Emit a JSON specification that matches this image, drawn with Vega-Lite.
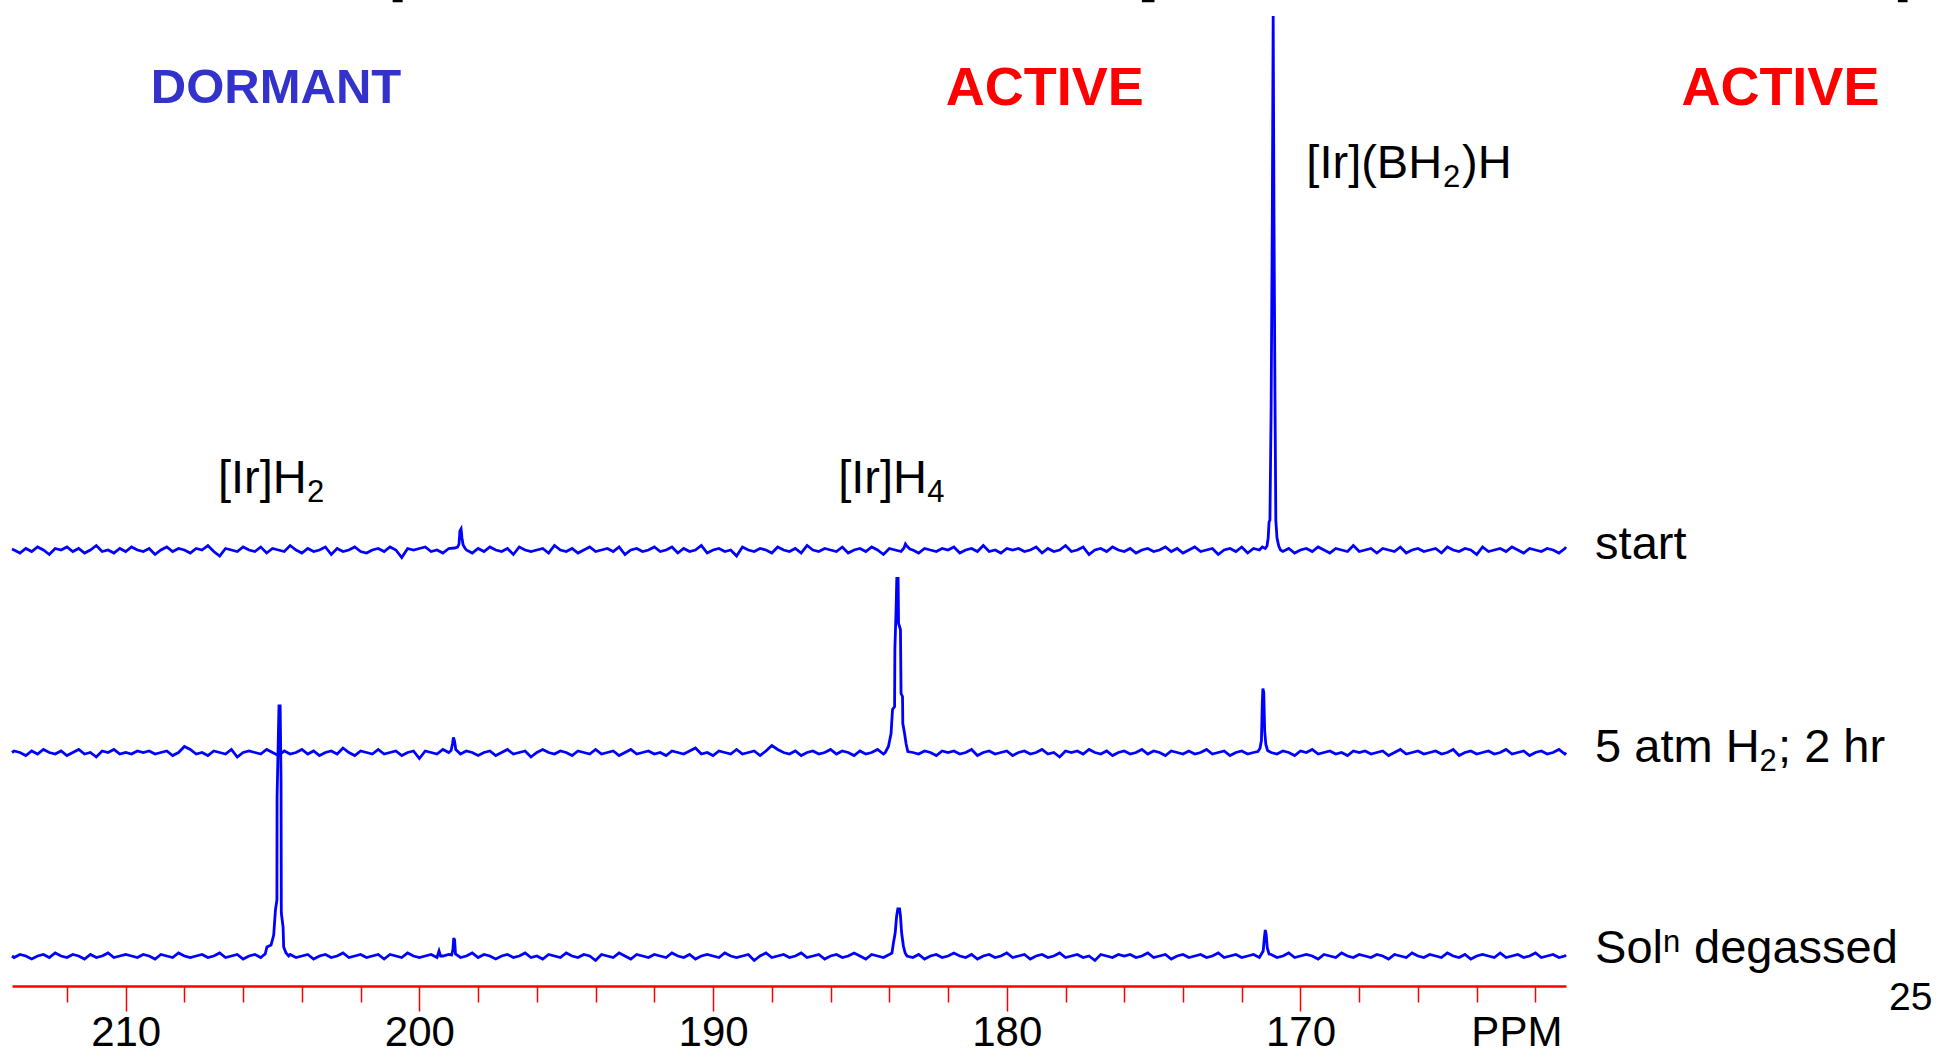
{
"$schema": "https://vega.github.io/schema/vega-lite/v6.json",
"width": 1554,
"height": 986,
"autosize": {"type": "none"},
"padding": {"left": 12, "top": 0, "right": 370, "bottom": 69},
"background": "white",
"config": {"view": {"stroke": null}, "axis": {"grid": false}},
"datasets": {
"A": [
{"p":213.87,"v":1},{"p":213.8,"v":0},{"p":213.6,"v":-3},{"p":213.4,"v":1.5},{"p":213.2,"v":-1.5},{"p":213.0,"v":3},{"p":212.8,"v":0},{"p":212.6,"v":-4.5},{"p":212.4,"v":1.5},{"p":212.2,"v":0},{"p":212.0,"v":3},
{"p":211.8,"v":-1.5},{"p":211.6,"v":1.5},{"p":211.4,"v":-3},{"p":211.2,"v":0},{"p":211.0,"v":4.5},{"p":210.8,"v":-1.5},{"p":210.6,"v":0},{"p":210.4,"v":-3},{"p":210.2,"v":1.5},{"p":210.0,"v":-1.5},
{"p":209.8,"v":3},{"p":209.6,"v":0},{"p":209.4,"v":-1.5},{"p":209.2,"v":1.5},{"p":209.0,"v":-4.5},{"p":208.8,"v":0},{"p":208.6,"v":3},{"p":208.4,"v":-1.5},{"p":208.2,"v":1.5},{"p":208.0,"v":0},
{"p":207.8,"v":-3},{"p":207.6,"v":1.5},{"p":207.4,"v":0},{"p":207.2,"v":4.5},{"p":207.0,"v":-1.5},{"p":206.8,"v":-6},{"p":206.6,"v":1.5},{"p":206.4,"v":0},{"p":206.2,"v":-1.5},{"p":206.0,"v":3},
{"p":205.8,"v":0},{"p":205.6,"v":-1.5},{"p":205.4,"v":3},{"p":205.2,"v":-3},{"p":205.0,"v":1.5},{"p":204.8,"v":0},{"p":204.6,"v":-1.5},{"p":204.4,"v":4.5},{"p":204.2,"v":0},{"p":204.0,"v":-3},
{"p":203.8,"v":1.5},{"p":203.6,"v":-1.5},{"p":203.4,"v":0},{"p":203.2,"v":3},{"p":203.0,"v":-4.5},{"p":202.8,"v":1.5},{"p":202.6,"v":-1.5},{"p":202.4,"v":0},{"p":202.2,"v":3},{"p":202.0,"v":-1.5},
{"p":201.8,"v":-3},{"p":201.6,"v":0},{"p":201.4,"v":1.5},{"p":201.2,"v":-1.5},{"p":201.0,"v":3},{"p":200.8,"v":0},{"p":200.6,"v":-7.5},{"p":200.4,"v":1.5},{"p":200.2,"v":0},{"p":200.0,"v":1.5},
{"p":199.8,"v":3},{"p":199.6,"v":-1.5},{"p":199.4,"v":0},{"p":199.2,"v":-3},{"p":199.0,"v":1.5},{"p":198.8,"v":2},{"p":198.7,"v":3},{"p":198.65,"v":6},{"p":198.62,"v":19},{"p":198.58,"v":21},{"p":198.55,"v":12},{"p":198.51,"v":5},{"p":198.45,"v":2},{"p":198.4,"v":0},{"p":198.2,"v":-3},{"p":198.0,"v":1.5},
{"p":197.8,"v":-1.5},{"p":197.6,"v":3},{"p":197.4,"v":0},{"p":197.2,"v":-1.5},{"p":197.0,"v":1.5},{"p":196.8,"v":-4.5},{"p":196.6,"v":3},{"p":196.4,"v":0},{"p":196.2,"v":-1.5},{"p":196.0,"v":0},
{"p":195.8,"v":1.5},{"p":195.6,"v":-3},{"p":195.4,"v":4.5},{"p":195.2,"v":0},{"p":195.0,"v":-1.5},{"p":194.8,"v":1.5},{"p":194.6,"v":-3},{"p":194.4,"v":0},{"p":194.2,"v":3},{"p":194.0,"v":-1.5},
{"p":193.8,"v":0},{"p":193.6,"v":1.5},{"p":193.4,"v":-1.5},{"p":193.2,"v":3},{"p":193.0,"v":-4.5},{"p":192.8,"v":0},{"p":192.6,"v":1.5},{"p":192.4,"v":-1.5},{"p":192.2,"v":0},{"p":192.0,"v":3},
{"p":191.8,"v":-1.5},{"p":191.6,"v":0},{"p":191.4,"v":3},{"p":191.2,"v":-3},{"p":191.0,"v":1.5},{"p":190.8,"v":-1.5},{"p":190.6,"v":0},{"p":190.4,"v":4.5},{"p":190.2,"v":-3},{"p":190.0,"v":0},
{"p":189.8,"v":1.5},{"p":189.6,"v":-1.5},{"p":189.4,"v":0},{"p":189.2,"v":-6},{"p":189.0,"v":3},{"p":188.8,"v":0},{"p":188.6,"v":-1.5},{"p":188.4,"v":1.5},{"p":188.2,"v":0},{"p":188.0,"v":-3},
{"p":187.8,"v":3},{"p":187.6,"v":0},{"p":187.4,"v":-1.5},{"p":187.2,"v":1.5},{"p":187.0,"v":-3},{"p":186.8,"v":4.5},{"p":186.6,"v":0},{"p":186.4,"v":-1.5},{"p":186.2,"v":1.5},{"p":186.0,"v":0},
{"p":185.8,"v":-1.5},{"p":185.6,"v":3},{"p":185.4,"v":-3},{"p":185.2,"v":0},{"p":185.0,"v":1.5},{"p":184.8,"v":-1.5},{"p":184.6,"v":3},{"p":184.4,"v":0},{"p":184.2,"v":-4.5},{"p":184.0,"v":1.5},
{"p":183.8,"v":0},{"p":183.6,"v":-1.5},{"p":183.5,"v":2},{"p":183.45,"v":6},{"p":183.4,"v":4},{"p":183.3,"v":1},{"p":183.2,"v":0},{"p":183.0,"v":-3},{"p":182.8,"v":1.5},{"p":182.6,"v":0},{"p":182.4,"v":-1.5},{"p":182.2,"v":1.5},{"p":182.0,"v":0},
{"p":181.8,"v":3},{"p":181.6,"v":-3},{"p":181.4,"v":0},{"p":181.2,"v":1.5},{"p":181.0,"v":-1.5},{"p":180.8,"v":4.5},{"p":180.6,"v":-1.5},{"p":180.4,"v":0},{"p":180.2,"v":-3},{"p":180.0,"v":1.5},
{"p":179.8,"v":0},{"p":179.6,"v":1.5},{"p":179.4,"v":-1.5},{"p":179.2,"v":0},{"p":179.0,"v":3},{"p":178.8,"v":-3},{"p":178.6,"v":1.5},{"p":178.4,"v":-1.5},{"p":178.2,"v":0},{"p":178.0,"v":4.5},
{"p":177.8,"v":-1.5},{"p":177.6,"v":0},{"p":177.4,"v":3},{"p":177.2,"v":-4.5},{"p":177.0,"v":0},{"p":176.8,"v":1.5},{"p":176.6,"v":-1.5},{"p":176.4,"v":3},{"p":176.2,"v":0},{"p":176.0,"v":-1.5},
{"p":175.8,"v":1.5},{"p":175.6,"v":-3},{"p":175.4,"v":0},{"p":175.2,"v":1.5},{"p":175.0,"v":-1.5},{"p":174.8,"v":0},{"p":174.6,"v":3},{"p":174.4,"v":-1.5},{"p":174.2,"v":1.5},{"p":174.0,"v":-3},
{"p":173.8,"v":0},{"p":173.6,"v":3},{"p":173.4,"v":-1.5},{"p":173.2,"v":0},{"p":173.0,"v":1.5},{"p":172.8,"v":-4.5},{"p":172.6,"v":0},{"p":172.4,"v":1.5},{"p":172.2,"v":-1.5},{"p":172.0,"v":3},
{"p":171.8,"v":-3},{"p":171.6,"v":1.5},{"p":171.4,"v":0},{"p":171.3,"v":3},{"p":171.2,"v":1.5},{"p":171.14,"v":4},{"p":171.1,"v":12},{"p":171.07,"v":28},{"p":171.04,"v":30},{"p":171.0,"v":140},{"p":170.96,"v":330},{"p":170.93,"v":534},{"p":170.9,"v":320},{"p":170.87,"v":160},{"p":170.84,"v":30},{"p":170.8,"v":12},{"p":170.74,"v":4},{"p":170.68,"v":0},{"p":170.6,"v":-1.5},{"p":170.4,"v":1.5},{"p":170.2,"v":-3},{"p":170.0,"v":0},
{"p":169.8,"v":1.5},{"p":169.6,"v":-1.5},{"p":169.4,"v":3},{"p":169.2,"v":0},{"p":169.0,"v":-3},{"p":168.8,"v":1.5},{"p":168.6,"v":0},{"p":168.4,"v":-1.5},{"p":168.2,"v":4.5},{"p":168.0,"v":-1.5},
{"p":167.8,"v":0},{"p":167.6,"v":1.5},{"p":167.4,"v":-3},{"p":167.2,"v":1.5},{"p":167.0,"v":0},{"p":166.8,"v":-1.5},{"p":166.6,"v":3},{"p":166.4,"v":-3},{"p":166.2,"v":0},{"p":166.0,"v":1.5},
{"p":165.8,"v":-1.5},{"p":165.6,"v":0},{"p":165.4,"v":1.5},{"p":165.2,"v":-3},{"p":165.0,"v":3},{"p":164.8,"v":0},{"p":164.6,"v":-1.5},{"p":164.4,"v":1.5},{"p":164.2,"v":0},{"p":164.0,"v":-4.5},
{"p":163.8,"v":3},{"p":163.6,"v":-1.5},{"p":163.4,"v":0},{"p":163.2,"v":1.5},{"p":163.0,"v":-1.5},{"p":162.8,"v":3},{"p":162.6,"v":0},{"p":162.4,"v":-3},{"p":162.2,"v":1.5},{"p":162.0,"v":0},
{"p":161.8,"v":-1.5},{"p":161.6,"v":1.5},{"p":161.4,"v":0},{"p":161.2,"v":-3},{"p":161.0,"v":1.5},{"p":160.96,"v":3}
],
"B": [
{"p":213.87,"v":0},{"p":213.8,"v":1.5},{"p":213.6,"v":0},{"p":213.4,"v":-3},{"p":213.2,"v":1.5},{"p":213.0,"v":-1.5},{"p":212.8,"v":3},{"p":212.6,"v":0},{"p":212.4,"v":-1.5},{"p":212.2,"v":1.5},{"p":212.0,"v":-3},
{"p":211.8,"v":0},{"p":211.6,"v":3},{"p":211.4,"v":-1.5},{"p":211.2,"v":0},{"p":211.0,"v":-4.5},{"p":210.8,"v":1.5},{"p":210.6,"v":0},{"p":210.4,"v":3},{"p":210.2,"v":-1.5},{"p":210.0,"v":0},
{"p":209.8,"v":-1.5},{"p":209.6,"v":1.5},{"p":209.4,"v":0},{"p":209.2,"v":1.5},{"p":209.0,"v":-1.5},{"p":208.8,"v":0},{"p":208.6,"v":1.5},{"p":208.4,"v":-3},{"p":208.2,"v":0},{"p":208.0,"v":6},
{"p":207.8,"v":3},{"p":207.6,"v":-1.5},{"p":207.4,"v":0},{"p":207.2,"v":-3},{"p":207.0,"v":1.5},{"p":206.8,"v":0},{"p":206.6,"v":-1.5},{"p":206.4,"v":3},{"p":206.2,"v":-4.5},{"p":206.0,"v":0},
{"p":205.8,"v":1.5},{"p":205.6,"v":0},{"p":205.4,"v":-1.5},{"p":205.2,"v":3},{"p":205.0,"v":0},{"p":204.8,"v":-3},{"p":204.6,"v":1.5},{"p":204.4,"v":-1.5},{"p":204.2,"v":0},{"p":204.0,"v":3},
{"p":203.8,"v":-1.5},{"p":203.6,"v":1.5},{"p":203.4,"v":-3},{"p":203.2,"v":0},{"p":203.0,"v":1.5},{"p":202.8,"v":-1.5},{"p":202.6,"v":4.5},{"p":202.4,"v":0},{"p":202.2,"v":-3},{"p":202.0,"v":1.5},
{"p":201.8,"v":0},{"p":201.6,"v":-1.5},{"p":201.4,"v":3},{"p":201.2,"v":-1.5},{"p":201.0,"v":0},{"p":200.8,"v":1.5},{"p":200.6,"v":-3},{"p":200.4,"v":0},{"p":200.2,"v":1.5},{"p":200.0,"v":-6},
{"p":199.8,"v":1.5},{"p":199.6,"v":0},{"p":199.4,"v":-1.5},{"p":199.2,"v":3},{"p":199.0,"v":0},{"p":198.92,"v":2},{"p":198.87,"v":9},{"p":198.84,"v":15},{"p":198.8,"v":11},{"p":198.76,"v":3},{"p":198.6,"v":-1.5},{"p":198.4,"v":1.5},{"p":198.2,"v":0},{"p":198.0,"v":-3},
{"p":197.8,"v":0},{"p":197.6,"v":1.5},{"p":197.4,"v":-3},{"p":197.2,"v":0},{"p":197.0,"v":3},{"p":196.8,"v":-1.5},{"p":196.6,"v":0},{"p":196.4,"v":1.5},{"p":196.2,"v":-4.5},{"p":196.0,"v":0},
{"p":195.8,"v":3},{"p":195.6,"v":0},{"p":195.4,"v":-1.5},{"p":195.2,"v":1.5},{"p":195.0,"v":0},{"p":194.8,"v":-3},{"p":194.6,"v":1.5},{"p":194.4,"v":0},{"p":194.2,"v":-1.5},{"p":194.0,"v":3},
{"p":193.8,"v":-1.5},{"p":193.6,"v":0},{"p":193.4,"v":1.5},{"p":193.2,"v":-3},{"p":193.0,"v":0},{"p":192.8,"v":3},{"p":192.6,"v":-1.5},{"p":192.4,"v":0},{"p":192.2,"v":1.5},{"p":192.0,"v":-1.5},
{"p":191.8,"v":0},{"p":191.6,"v":-3},{"p":191.4,"v":1.5},{"p":191.2,"v":0},{"p":191.0,"v":-1.5},{"p":190.8,"v":1.5},{"p":190.6,"v":4.5},{"p":190.4,"v":-1.5},{"p":190.2,"v":0},{"p":190.0,"v":-3},
{"p":189.8,"v":1.5},{"p":189.6,"v":0},{"p":189.4,"v":-1.5},{"p":189.2,"v":3},{"p":189.0,"v":-1.5},{"p":188.8,"v":0},{"p":188.6,"v":1.5},{"p":188.4,"v":-3},{"p":188.2,"v":1.5},{"p":188.0,"v":7},
{"p":187.8,"v":3},{"p":187.6,"v":0},{"p":187.4,"v":-1.5},{"p":187.2,"v":1.5},{"p":187.0,"v":-3},{"p":186.8,"v":0},{"p":186.6,"v":1.5},{"p":186.4,"v":-1.5},{"p":186.2,"v":0},{"p":186.0,"v":3},
{"p":185.8,"v":-1.5},{"p":185.6,"v":1.5},{"p":185.4,"v":0},{"p":185.2,"v":-3},{"p":185.0,"v":1.5},{"p":184.8,"v":-1.5},{"p":184.6,"v":0},{"p":184.4,"v":3},{"p":184.2,"v":-1.5},{"p":184.14,"v":0},{"p":184.03,"v":6},{"p":183.94,"v":19},{"p":183.89,"v":43},{"p":183.82,"v":46},{"p":183.81,"v":103},{"p":183.77,"v":142},{"p":183.745,"v":174},{"p":183.7,"v":174},{"p":183.685,"v":129},{"p":183.62,"v":123},{"p":183.6,"v":59},{"p":183.55,"v":56},{"p":183.54,"v":29},{"p":183.48,"v":19},{"p":183.43,"v":9},{"p":183.37,"v":1},{"p":183.2,"v":0},{"p":183.0,"v":-1.5},{"p":182.8,"v":1.5},{"p":182.6,"v":0},{"p":182.4,"v":-3},{"p":182.2,"v":1.5},{"p":182.0,"v":0},
{"p":181.8,"v":1.5},{"p":181.6,"v":-1.5},{"p":181.4,"v":0},{"p":181.2,"v":3},{"p":181.0,"v":-3},{"p":180.8,"v":0},{"p":180.6,"v":1.5},{"p":180.4,"v":-1.5},{"p":180.2,"v":0},{"p":180.0,"v":1.5},
{"p":179.8,"v":-3},{"p":179.6,"v":0},{"p":179.4,"v":1.5},{"p":179.2,"v":-1.5},{"p":179.0,"v":0},{"p":178.8,"v":3},{"p":178.6,"v":-1.5},{"p":178.4,"v":0},{"p":178.2,"v":-4.5},{"p":178.0,"v":1.5},
{"p":177.8,"v":0},{"p":177.6,"v":1.5},{"p":177.4,"v":-1.5},{"p":177.2,"v":3},{"p":177.0,"v":0},{"p":176.8,"v":-1.5},{"p":176.6,"v":1.5},{"p":176.4,"v":-3},{"p":176.2,"v":0},{"p":176.0,"v":1.5},
{"p":175.8,"v":-1.5},{"p":175.6,"v":0},{"p":175.4,"v":3},{"p":175.2,"v":-1.5},{"p":175.0,"v":1.5},{"p":174.8,"v":0},{"p":174.6,"v":-3},{"p":174.4,"v":1.5},{"p":174.2,"v":0},{"p":174.0,"v":-1.5},
{"p":173.8,"v":1.5},{"p":173.6,"v":-1.5},{"p":173.4,"v":0},{"p":173.2,"v":3},{"p":173.0,"v":-1.5},{"p":172.8,"v":0},{"p":172.6,"v":1.5},{"p":172.4,"v":-3},{"p":172.2,"v":0},{"p":172.0,"v":1.5},
{"p":171.8,"v":-1.5},{"p":171.6,"v":0},{"p":171.45,"v":1},{"p":171.38,"v":4},{"p":171.33,"v":12},{"p":171.3,"v":50},{"p":171.28,"v":64},{"p":171.25,"v":60},{"p":171.22,"v":22},{"p":171.18,"v":8},{"p":171.12,"v":2},{"p":171.0,"v":0},{"p":170.8,"v":-1.5},{"p":170.6,"v":1.5},{"p":170.4,"v":0},{"p":170.2,"v":-3},{"p":170.0,"v":1.5},
{"p":169.8,"v":0},{"p":169.6,"v":3},{"p":169.4,"v":-1.5},{"p":169.2,"v":0},{"p":169.0,"v":1.5},{"p":168.8,"v":-1.5},{"p":168.6,"v":0},{"p":168.4,"v":-3},{"p":168.2,"v":1.5},{"p":168.0,"v":0},
{"p":167.8,"v":1.5},{"p":167.6,"v":-1.5},{"p":167.4,"v":0},{"p":167.2,"v":1.5},{"p":167.0,"v":-3},{"p":166.8,"v":0},{"p":166.6,"v":3},{"p":166.4,"v":-1.5},{"p":166.2,"v":0},{"p":166.0,"v":1.5},
{"p":165.8,"v":-1.5},{"p":165.6,"v":0},{"p":165.4,"v":1.5},{"p":165.2,"v":-1.5},{"p":165.0,"v":0},{"p":164.8,"v":3},{"p":164.6,"v":-3},{"p":164.4,"v":0},{"p":164.2,"v":1.5},{"p":164.0,"v":-1.5},
{"p":163.8,"v":0},{"p":163.6,"v":1.5},{"p":163.4,"v":-1.5},{"p":163.2,"v":0},{"p":163.0,"v":3},{"p":162.8,"v":-1.5},{"p":162.6,"v":0},{"p":162.4,"v":1.5},{"p":162.2,"v":-3},{"p":162.0,"v":0},
{"p":161.8,"v":1.5},{"p":161.6,"v":-1.5},{"p":161.4,"v":0},{"p":161.2,"v":3},{"p":161.0,"v":-1.5},{"p":160.96,"v":0}
],
"C": [
{"p":213.87,"v":0},{"p":213.8,"v":-1.5},{"p":213.6,"v":1.5},{"p":213.4,"v":0},{"p":213.2,"v":-3},{"p":213.0,"v":0},{"p":212.8,"v":1.5},{"p":212.6,"v":-1.5},{"p":212.4,"v":3},{"p":212.2,"v":0},{"p":212.0,"v":-1.5},
{"p":211.8,"v":1.5},{"p":211.6,"v":0},{"p":211.4,"v":-3},{"p":211.2,"v":1.5},{"p":211.0,"v":-1.5},{"p":210.8,"v":0},{"p":210.6,"v":3},{"p":210.4,"v":-1.5},{"p":210.2,"v":0},{"p":210.0,"v":1.5},
{"p":209.8,"v":0},{"p":209.6,"v":-1.5},{"p":209.4,"v":1.5},{"p":209.2,"v":0},{"p":209.0,"v":-3},{"p":208.8,"v":1.5},{"p":208.6,"v":0},{"p":208.4,"v":-1.5},{"p":208.2,"v":3},{"p":208.0,"v":0},
{"p":207.8,"v":-1.5},{"p":207.6,"v":0},{"p":207.4,"v":1.5},{"p":207.2,"v":-1.5},{"p":207.0,"v":0},{"p":206.8,"v":3},{"p":206.6,"v":-1.5},{"p":206.4,"v":0},{"p":206.2,"v":1.5},{"p":206.0,"v":-3},
{"p":205.8,"v":0},{"p":205.6,"v":1.5},{"p":205.4,"v":-1.5},{"p":205.3,"v":1},{"p":205.25,"v":2},{"p":205.19,"v":9},{"p":205.05,"v":11},{"p":204.96,"v":21},{"p":204.9,"v":46},{"p":204.85,"v":56},{"p":204.845,"v":159},{"p":204.78,"v":250},{"p":204.74,"v":250},{"p":204.71,"v":176},{"p":204.7,"v":43},{"p":204.64,"v":29},{"p":204.62,"v":9},{"p":204.54,"v":3},{"p":204.45,"v":0},{"p":204.4,"v":1.5},{"p":204.2,"v":-1.5},{"p":204.0,"v":0},
{"p":203.8,"v":1.5},{"p":203.6,"v":-3},{"p":203.4,"v":0},{"p":203.2,"v":1.5},{"p":203.0,"v":-1.5},{"p":202.8,"v":0},{"p":202.6,"v":3},{"p":202.4,"v":-1.5},{"p":202.2,"v":0},{"p":202.0,"v":1.5},
{"p":201.8,"v":-1.5},{"p":201.6,"v":0},{"p":201.4,"v":1.5},{"p":201.2,"v":-3},{"p":201.0,"v":1.5},{"p":200.8,"v":0},{"p":200.6,"v":-1.5},{"p":200.4,"v":3},{"p":200.2,"v":0},{"p":200.0,"v":-1.5},
{"p":199.8,"v":0},{"p":199.6,"v":1.5},{"p":199.4,"v":-1.5},{"p":199.33,"v":5},{"p":199.28,"v":0},{"p":199.2,"v":0},{"p":199.0,"v":1.5},{"p":198.9,"v":1},{"p":198.86,"v":6},{"p":198.83,"v":18},{"p":198.8,"v":16},{"p":198.77,"v":2},{"p":198.6,"v":-1.5},{"p":198.4,"v":0},{"p":198.2,"v":3},{"p":198.0,"v":-1.5},
{"p":197.8,"v":1.5},{"p":197.6,"v":0},{"p":197.4,"v":-3},{"p":197.2,"v":0},{"p":197.0,"v":1.5},{"p":196.8,"v":-1.5},{"p":196.6,"v":0},{"p":196.4,"v":3},{"p":196.2,"v":-1.5},{"p":196.0,"v":0},
{"p":195.8,"v":-3},{"p":195.6,"v":1.5},{"p":195.4,"v":0},{"p":195.2,"v":-1.5},{"p":195.0,"v":3},{"p":194.8,"v":0},{"p":194.6,"v":-1.5},{"p":194.4,"v":1.5},{"p":194.2,"v":0},{"p":194.0,"v":-4.5},
{"p":193.8,"v":1.5},{"p":193.6,"v":0},{"p":193.4,"v":-1.5},{"p":193.2,"v":3},{"p":193.0,"v":0},{"p":192.8,"v":-3},{"p":192.6,"v":1.5},{"p":192.4,"v":0},{"p":192.2,"v":-1.5},{"p":192.0,"v":1.5},
{"p":191.8,"v":0},{"p":191.6,"v":-1.5},{"p":191.4,"v":3},{"p":191.2,"v":0},{"p":191.0,"v":-1.5},{"p":190.8,"v":1.5},{"p":190.6,"v":-3},{"p":190.4,"v":0},{"p":190.2,"v":1.5},{"p":190.0,"v":0},
{"p":189.8,"v":-1.5},{"p":189.6,"v":3},{"p":189.4,"v":0},{"p":189.2,"v":-1.5},{"p":189.0,"v":0},{"p":188.8,"v":1.5},{"p":188.6,"v":-4.5},{"p":188.4,"v":0},{"p":188.2,"v":3},{"p":188.0,"v":-1.5},
{"p":187.8,"v":0},{"p":187.6,"v":1.5},{"p":187.4,"v":-1.5},{"p":187.2,"v":0},{"p":187.0,"v":3},{"p":186.8,"v":-1.5},{"p":186.6,"v":0},{"p":186.4,"v":1.5},{"p":186.2,"v":-3},{"p":186.0,"v":0},
{"p":185.8,"v":1.5},{"p":185.6,"v":-1.5},{"p":185.4,"v":0},{"p":185.2,"v":3},{"p":185.0,"v":0},{"p":184.8,"v":-3},{"p":184.6,"v":1.5},{"p":184.4,"v":0},{"p":184.2,"v":-1.5},{"p":184.0,"v":1.5},{"p":183.91,"v":3},{"p":183.86,"v":13},{"p":183.8,"v":23},{"p":183.75,"v":40},{"p":183.71,"v":47},{"p":183.65,"v":47},{"p":183.62,"v":40},{"p":183.58,"v":23},{"p":183.52,"v":10},{"p":183.46,"v":3},{"p":183.4,"v":0},{"p":183.2,"v":-1.5},{"p":183.0,"v":1.5},{"p":182.8,"v":-3},{"p":182.6,"v":0},{"p":182.4,"v":1.5},{"p":182.2,"v":-1.5},{"p":182.0,"v":0},
{"p":181.8,"v":3},{"p":181.6,"v":0},{"p":181.4,"v":-1.5},{"p":181.2,"v":1.5},{"p":181.0,"v":-3},{"p":180.8,"v":0},{"p":180.6,"v":1.5},{"p":180.4,"v":-1.5},{"p":180.2,"v":0},{"p":180.0,"v":3},
{"p":179.8,"v":-1.5},{"p":179.6,"v":0},{"p":179.4,"v":1.5},{"p":179.2,"v":-3},{"p":179.0,"v":0},{"p":178.8,"v":1.5},{"p":178.6,"v":-1.5},{"p":178.4,"v":0},{"p":178.2,"v":3},{"p":178.0,"v":-1.5},
{"p":177.8,"v":0},{"p":177.6,"v":1.5},{"p":177.4,"v":-1.5},{"p":177.2,"v":0},{"p":177.0,"v":-4.5},{"p":176.8,"v":1.5},{"p":176.6,"v":0},{"p":176.4,"v":-1.5},{"p":176.2,"v":1.5},{"p":176.0,"v":0},
{"p":175.8,"v":1.5},{"p":175.6,"v":-1.5},{"p":175.4,"v":0},{"p":175.2,"v":3},{"p":175.0,"v":-1.5},{"p":174.8,"v":0},{"p":174.6,"v":1.5},{"p":174.4,"v":-3},{"p":174.2,"v":0},{"p":174.0,"v":1.5},
{"p":173.8,"v":-1.5},{"p":173.6,"v":0},{"p":173.4,"v":1.5},{"p":173.2,"v":-1.5},{"p":173.0,"v":0},{"p":172.8,"v":3},{"p":172.6,"v":-1.5},{"p":172.4,"v":0},{"p":172.2,"v":1.5},{"p":172.0,"v":-1.5},
{"p":171.8,"v":0},{"p":171.6,"v":1.5},{"p":171.4,"v":-1.5},{"p":171.35,"v":1},{"p":171.27,"v":5},{"p":171.23,"v":18},{"p":171.2,"v":26},{"p":171.17,"v":22},{"p":171.13,"v":8},{"p":171.07,"v":2},{"p":171.0,"v":1.5},{"p":170.8,"v":-1.5},{"p":170.6,"v":0},{"p":170.4,"v":3},{"p":170.2,"v":-1.5},{"p":170.0,"v":0},
{"p":169.8,"v":1.5},{"p":169.6,"v":0},{"p":169.4,"v":-3},{"p":169.2,"v":1.5},{"p":169.0,"v":0},{"p":168.8,"v":-1.5},{"p":168.6,"v":3},{"p":168.4,"v":0},{"p":168.2,"v":-1.5},{"p":168.0,"v":1.5},
{"p":167.8,"v":0},{"p":167.6,"v":-1.5},{"p":167.4,"v":1.5},{"p":167.2,"v":0},{"p":167.0,"v":-3},{"p":166.8,"v":1.5},{"p":166.6,"v":0},{"p":166.4,"v":-1.5},{"p":166.2,"v":3},{"p":166.0,"v":0},
{"p":165.8,"v":-1.5},{"p":165.6,"v":1.5},{"p":165.4,"v":0},{"p":165.2,"v":-1.5},{"p":165.0,"v":3},{"p":164.8,"v":0},{"p":164.6,"v":-1.5},{"p":164.4,"v":1.5},{"p":164.2,"v":-3},{"p":164.0,"v":0},
{"p":163.8,"v":1.5},{"p":163.6,"v":0},{"p":163.4,"v":-1.5},{"p":163.2,"v":3},{"p":163.0,"v":-1.5},{"p":162.8,"v":0},{"p":162.6,"v":1.5},{"p":162.4,"v":-1.5},{"p":162.2,"v":0},{"p":162.0,"v":3},
{"p":161.8,"v":-1.5},{"p":161.6,"v":0},{"p":161.4,"v":1.5},{"p":161.2,"v":-1.5},{"p":161.0,"v":0},{"p":160.96,"v":1}
],
"big": [
{"t":"[Ir]H","p":206.86,"v":57},
{"t":"[Ir]H","p":185.74,"v":57},
{"t":"[Ir](BH","p":169.8,"v":372},
{"t":")H","p":164.5,"v":372},
{"t":"start","p":159.97,"v":-9},
{"t":"5 atm H","p":159.97,"v":-212},
{"t":"; 2 hr","p":153.74,"v":-212},
{"t":"Sol","p":159.97,"v":-413},
{"t":"degassed","p":156.6,"v":-413}
],
"small": [
{"t":"2","p":203.83,"v":48},
{"t":"4","p":182.71,"v":48},
{"t":"2","p":165.15,"v":363},
{"t":"2","p":154.37,"v":-221},
{"t":"n","p":157.66,"v":-402}
],
"dormant": [{"t":"DORMANT","p":204.88,"v":447}],
"active": [{"t":"ACTIVE","p":178.71,"v":445},{"t":"ACTIVE","p":153.66,"v":445}],
"page": [{"t":"25","p":149.96,"v":-460}],
"marks": [
{"p1":200.91,"p2":200.57,"v":549},
{"p1":175.4,"p2":174.97,"v":549},
{"p1":149.66,"p2":149.33,"v":549}
]
},
"layer": [
{"layer": [
{"data": {"name": "A"},
 "mark": {"type": "line", "color": "#0000FF", "strokeWidth": 2.8},
 "encoding": {
  "x": {"field": "p", "type": "quantitative",
   "scale": {"domain": [160.96, 213.87], "reverse": true, "nice": false, "zero": false},
   "axis": {
    "title": null, "grid": false,
    "values": [212,210,208,206,204,202,200,198,196,194,192,190,188,186,184,182,180,178,176,174,172,170,168,166,164,162,161.1],
    "domainColor": "#FF0000", "domainWidth": 2.5, "domainCap": "butt",
    "tickColor": "#FF0000", "tickWidth": 1.5,
    "tickSize": {"condition": {"test": "datum.value % 10 === 0 || datum.value === 161.1", "value": 25}, "value": 16},
    "tickOpacity": {"condition": {"test": "datum.value === 161.1", "value": 0}, "value": 1},
    "labelExpr": "datum.value === 161.1 ? 'PPM' : (datum.value % 10 === 0 ? datum.label : '')",
    "labelAlign": {"condition": {"test": "datum.value === 161.1", "value": "right"}, "value": "center"},
    "labelFont": "Liberation Sans", "labelFontSize": 42, "labelColor": "#000000",
    "labelPadding": 1, "labelOverlap": false, "labelFlush": false, "labelBound": false
   }},
  "y": {"field": "v", "type": "quantitative", "scale": {"domain": [-436, 550], "nice": false, "zero": false}, "axis": null}
 }},
{"data": {"name": "marks"},
 "mark": {"type": "rule", "color": "#000000", "strokeWidth": 2.5},
 "encoding": {"x": {"field": "p1", "type": "quantitative"}, "x2": {"field": "p2"}, "y": {"field": "v", "type": "quantitative"}}},
{"data": {"name": "big"},
 "mark": {"type": "text", "align": "left", "baseline": "alphabetic", "font": "Liberation Sans", "fontSize": 47, "color": "#000000"},
 "encoding": {"x": {"field": "p", "type": "quantitative"}, "y": {"field": "v", "type": "quantitative"}, "text": {"field": "t"}}},
{"data": {"name": "small"},
 "mark": {"type": "text", "align": "left", "baseline": "alphabetic", "font": "Liberation Sans", "fontSize": 31, "color": "#000000"},
 "encoding": {"x": {"field": "p", "type": "quantitative"}, "y": {"field": "v", "type": "quantitative"}, "text": {"field": "t"}}},
{"data": {"name": "dormant"},
 "mark": {"type": "text", "align": "center", "baseline": "alphabetic", "font": "Liberation Sans", "fontWeight": "bold", "fontSize": 49, "color": "#3333CC"},
 "encoding": {"x": {"field": "p", "type": "quantitative"}, "y": {"field": "v", "type": "quantitative"}, "text": {"field": "t"}}},
{"data": {"name": "active"},
 "mark": {"type": "text", "align": "center", "baseline": "alphabetic", "font": "Liberation Sans", "fontWeight": "bold", "fontSize": 54, "color": "#FF0000"},
 "encoding": {"x": {"field": "p", "type": "quantitative"}, "y": {"field": "v", "type": "quantitative"}, "text": {"field": "t"}}},
{"data": {"name": "page"},
 "mark": {"type": "text", "align": "left", "baseline": "alphabetic", "font": "Liberation Sans", "fontSize": 39, "color": "#000000"},
 "encoding": {"x": {"field": "p", "type": "quantitative"}, "y": {"field": "v", "type": "quantitative"}, "text": {"field": "t"}}}
]},
{"data": {"name": "B"},
 "mark": {"type": "line", "color": "#0000FF", "strokeWidth": 2.8},
 "encoding": {
  "x": {"field": "p", "type": "quantitative"},
  "y": {"field": "v", "type": "quantitative", "scale": {"domain": [-233.5, 752.5], "nice": false, "zero": false}, "axis": null}
 }},
{"data": {"name": "C"},
 "mark": {"type": "line", "color": "#0000FF", "strokeWidth": 2.8},
 "encoding": {
  "x": {"field": "p", "type": "quantitative"},
  "y": {"field": "v", "type": "quantitative", "scale": {"domain": [-30, 956], "nice": false, "zero": false}, "axis": null}
 }}
],
"resolve": {"scale": {"y": "independent"}}
}
